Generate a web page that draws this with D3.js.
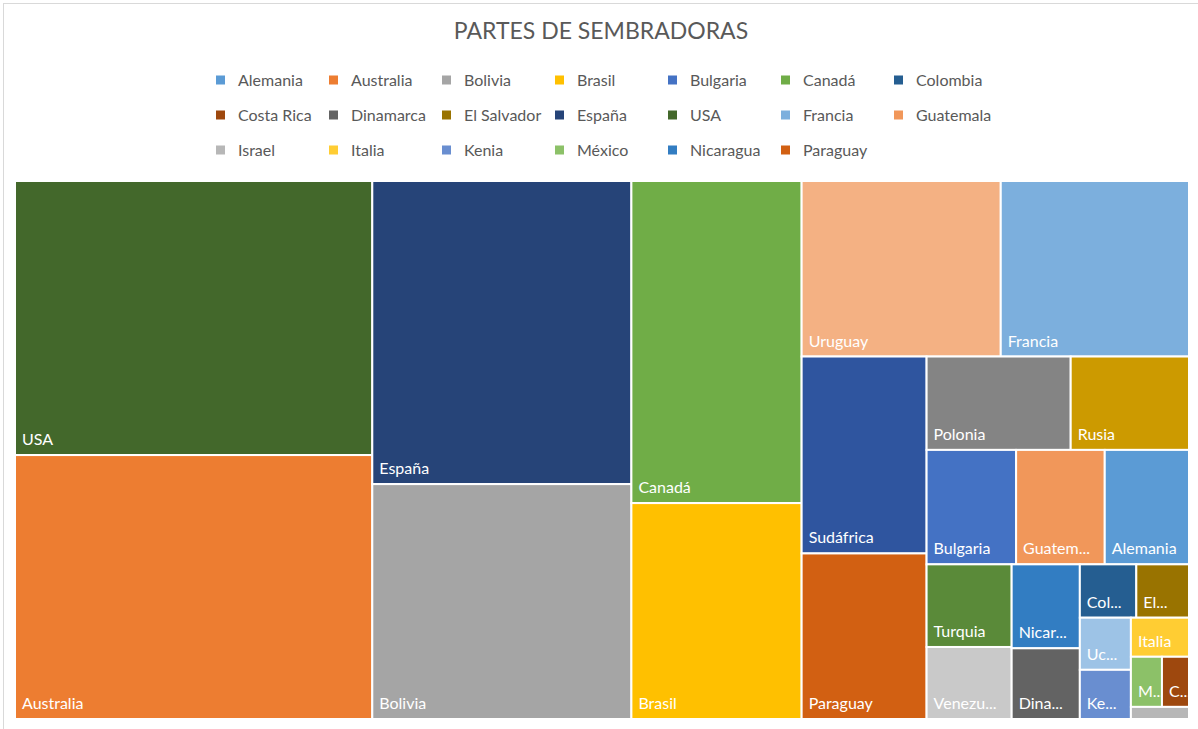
<!DOCTYPE html>
<html>
<head>
<meta charset="utf-8">
<script src="https://cdn.jsdelivr.net/npm/d3@7"></script>
<style>
  body { margin: 0; background: #fff; }
  text { font-family: Lato, "Open Sans", sans-serif; }
</style>
</head>
<body>
<div id="chart"></div>
<script>
// countries and their share
const countries = ["Alemania", "Australia", "Bolivia", "Brasil", "Bulgaria", "Canadá", "Colombia",
  "Costa Rica", "Dinamarca", "El Salvador", "España", "USA", "Francia", "Guatemala",
  "Israel", "Italia", "Kenia", "México", "Nicaragua", "Paraguay",
  "Polonia", "Rusia", "Sudáfrica", "Turquia", "Ucrania", "Uruguay", "Venezuela"]
const values = [9.6, 93.9, 60.6, 36.6, 10.2, 54.6, 3.0,
  1.35, 4.8, 2.8, 78.2, 97.5, 32.9, 10.1,
  0.7, 2.26, 2.5, 1.55, 5.7, 20.6,
  13.4, 11.0, 24.5, 7.0, 2.65, 34.8, 6.1]
const colors = ["#5B9BD5", "#ED7D31", "#A5A5A5", "#FFC000", "#4472C4", "#70AD47", "#255E91",
  "#9E480E", "#636363", "#997300", "#264478", "#43682B", "#7CAFDD", "#F1975A",
  "#B7B7B7", "#FFCD33", "#698ED0", "#8CC168", "#327DC2", "#D26012",
  "#848484", "#CC9A00", "#2F559F", "#5A8A39", "#9DC3E6", "#F4B183", "#C9C9C9"]
// only the first 20 fit in the legend
const legendCount = 20
const title = "PARTES DE SEMBRADORAS"

const W = 1198, H = 729
const gc = {
  plot: { x: 15, y: 181, w: 1174, h: 538 },
  legend: { x: 216, y: 80, colW: 113, rowH: 35, cols: 7, box: 9 },
  text: { color: "#595959" }
}

// squarified rows, but a row only grows while its newest (smallest)
// cell gets squarer than the one before -- this is how Excel lays it out
function excelTile(parent, x0, y0, x1, y1) {
  const nodes = parent.children
  let value = parent.value
  let i = 0
  while (i < nodes.length) {
    const dx = x1 - x0, dy = y1 - y0
    const side = Math.min(dx, dy)
    const k = dx * dy / value
    const aspect = (v, s) => {
      const t = s * k / side
      const l = v * k / t
      return Math.max(t / l, l / t)
    }
    let sum = nodes[i].value
    let last = aspect(sum, sum)
    let j = i + 1
    while (j < nodes.length) {
      const s2 = sum + nodes[j].value
      const a = aspect(nodes[j].value, s2)
      if (a > last) break
      last = a
      sum = s2
      j++
    }
    const row = { children: nodes.slice(i, j), value: sum }
    if (dx < dy) {
      const yy = j < nodes.length ? y0 + dy * sum / value : y1
      d3.treemapDice(row, x0, y0, x1, yy)
      y0 = yy
    } else {
      const xx = j < nodes.length ? x0 + dx * sum / value : x1
      d3.treemapSlice(row, x0, y0, xx, y1)
      x0 = xx
    }
    value -= sum
    i = j
  }
}

const svg = d3.select("#chart").append("svg")
  .attr("width", W)
  .attr("height", H)

// chart frame
svg.append("rect")
  .attr("x", 3.5).attr("y", 3.5)
  .attr("width", W + 10).attr("height", H + 10)
  .style("fill", "none")
  .style("stroke", "#d9d9d9")

svg.append("text")
  .attr("x", 601)
  .attr("y", 39)
  .attr("text-anchor", "middle")
  .style("font-size", "23px")
  .style("fill", gc.text.color)
  .text(title)

// legend
const legend = svg.append("g")
countries.slice(0, legendCount).forEach((name, i) => {
  const col = i % gc.legend.cols
  const row = Math.floor(i / gc.legend.cols)
  const x = gc.legend.x + col * gc.legend.colW
  const y = gc.legend.y + row * gc.legend.rowH
  legend.append("rect")
    .attr("x", x)
    .attr("y", y - gc.legend.box / 2)
    .attr("width", gc.legend.box)
    .attr("height", gc.legend.box)
    .style("fill", colors[i])
  legend.append("text")
    .attr("x", x + 22)
    .attr("y", y + 5.5)
    .style("font-size", "16px")
    .style("fill", gc.text.color)
    .text(name)
})

// treemap
const data = {
  children: countries.map((name, i) => ({ name: name, value: values[i], color: colors[i] }))
}
const root = d3.hierarchy(data)
  .sum(d => d.value || 0)
  .sort((a, b) => b.value - a.value)

d3.treemap()
  .tile(excelTile)
  .size([gc.plot.w, gc.plot.h])(root)

const plot = svg.append("g")
  .attr("transform", "translate(" + gc.plot.x + "," + gc.plot.y + ")")

const cells = plot.selectAll("g")
  .data(root.leaves())
  .join("g")

cells.append("rect")
  .attr("x", d => d.x0)
  .attr("y", d => d.y0)
  .attr("width", d => d.x1 - d.x0)
  .attr("height", d => d.y1 - d.y0)
  .style("fill", d => d.data.color)
  .style("stroke", "#fff")
  .style("stroke-width", 2)

cells.filter(d => d.y1 - d.y0 > 25)
  .append("text")
  .attr("x", d => d.x0 + 7)
  .attr("y", d => d.y1 - 10)
  .style("font-size", "16px")
  .style("fill", "#fff")
  .each(function (d) {
    const t = d3.select(this)
    const avail = d.x1 - d.x0 - 16
    let s = d.data.name
    t.text(s)
    if (this.getComputedTextLength() <= avail) return
    while (s.length > 1) {
      s = s.slice(0, -1)
      t.text(s.trim() + "...")
      if (this.getComputedTextLength() <= avail) break
    }
  })
</script>
</body>
</html>
